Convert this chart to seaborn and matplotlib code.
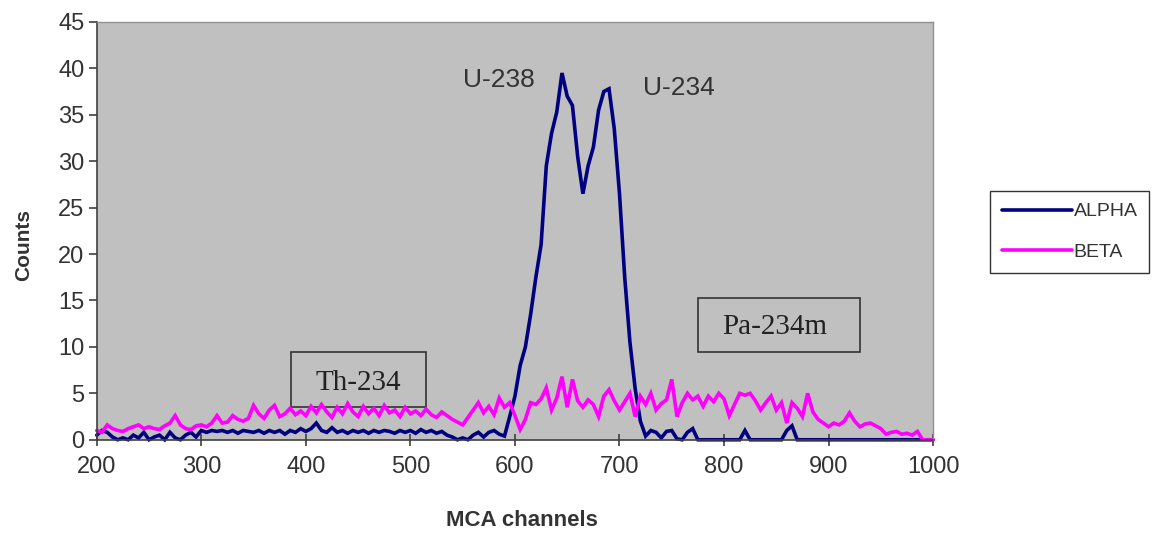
import numpy as np
import pandas as pd
import matplotlib.pyplot as plt
import seaborn as sns
from matplotlib.patches import Rectangle
from matplotlib.lines import Line2D

# MCA channel grid (every 5 channels, 200..1000)
channels = list(range(200, 1001, 5))

# counts
alpha_counts = [
    0.5, 1.0, 0.8, 0.3, 0.0, 0.2, 0.0, 0.5, 0.2, 0.8,        # 200-245
    0.0, 0.3, 0.5, 0.0, 0.8, 0.2, 0.0, 0.5, 0.8, 0.3,        # 250-295
    1.0, 0.8, 1.0, 0.9, 1.0, 0.8, 1.0, 0.7, 1.0, 0.9,        # 300-345
    0.8, 1.0, 0.7, 1.0, 0.8, 1.0, 0.6, 1.0, 0.8, 1.2,        # 350-395
    0.9, 1.2, 1.8, 1.0, 0.8, 1.3, 0.8, 1.0, 0.7, 1.0,        # 400-445
    0.8, 1.0, 0.7, 1.0, 0.8, 1.0, 0.9, 0.7, 1.0, 0.8,        # 450-495
    1.0, 0.7, 1.1, 0.8, 1.0, 0.7, 0.9, 0.5, 0.3, 0.0,        # 500-545
    0.2, 0.0, 0.5, 0.8, 0.3, 0.8, 1.0, 0.6, 0.4, 2.5,        # 550-595
    4.7, 8.0, 10.0, 13.5, 17.5, 21.0, 29.5, 33.0, 35.3, 39.5,  # 600-645
    37.0, 36.0, 30.5, 26.5, 29.5, 31.5, 35.5, 37.5, 37.8, 33.5,  # 650-695
    26.5, 17.5, 10.5, 5.5, 2.0, 0.4, 1.0, 0.8, 0.2, 0.9,     # 700-745
    1.0, 0.1, 0.0, 0.8, 1.2, 0.0, 0.0, 0.0, 0.0, 0.0,        # 750-795
    0.0, 0.0, 0.0, 0.0, 1.0, 0.0, 0.0, 0.0, 0.0, 0.0,        # 800-845
    0.0, 0.0, 1.0, 1.5, 0.0, 0.0, 0.0, 0.0, 0.0, 0.0,        # 850-895
    0.0, 0.0, 0.0, 0.0, 0.0, 0.0, 0.0, 0.0, 0.0, 0.0,        # 900-945
    0.0, 0.0, 0.0, 0.0, 0.0, 0.0, 0.0, 0.0, 0.0, 0.0,        # 950-995
    0.0,                                                     # 1000
]

beta_counts = [
    1.0, 0.8, 1.6, 1.2, 1.0, 0.9, 1.2, 1.4, 1.6, 1.2,        # 200-245
    1.4, 1.2, 1.1, 1.5, 1.8, 2.6, 1.6, 1.2, 1.1, 1.5,        # 250-295
    1.6, 1.4, 1.8, 2.6, 1.8, 1.9, 2.6, 2.2, 2.0, 2.3,        # 300-345
    3.7, 2.8, 2.3, 3.2, 3.7, 2.5, 2.8, 3.4, 2.7, 3.1,        # 350-395
    2.6, 3.6, 2.9, 3.8, 3.0, 2.4, 3.5, 2.8, 3.9, 3.0,        # 400-445
    2.5, 3.6, 2.8, 3.4, 2.6, 3.7, 2.9, 3.2, 2.5, 3.5,        # 450-495
    2.8, 3.1, 2.6, 3.3, 2.7, 2.4, 3.0, 2.6, 2.2, 1.9,        # 500-545
    1.6, 2.4, 3.2, 4.0, 2.9, 3.6, 2.7, 4.5, 3.5, 4.0,        # 550-595
    2.6, 1.1, 2.2, 4.0, 3.8, 4.4, 5.6, 3.2, 4.5, 6.8,        # 600-645
    3.5, 6.5, 4.2, 3.5, 4.3, 3.8, 2.5, 4.7, 5.4, 4.2,        # 650-695
    3.2, 4.1, 5.0, 2.5, 4.7, 3.8, 5.0, 3.2, 3.9, 4.3,        # 700-745
    6.5, 2.5, 4.0, 5.0, 4.3, 4.7, 3.6, 4.7, 4.1, 5.0,        # 750-795
    4.4, 2.6, 3.8, 5.0, 4.8, 5.0, 4.2, 3.2, 4.0, 4.7,        # 800-845
    3.2, 4.0, 1.8, 4.0, 3.4, 2.5, 5.0, 3.0, 2.2, 1.8,        # 850-895
    1.4, 1.8, 1.6, 2.0, 2.9, 2.0, 1.4, 1.7, 1.8, 1.5,        # 900-945
    1.2, 0.6, 0.8, 0.9, 0.6, 0.7, 0.5, 0.9, 0.0, 0.0,        # 950-995
    0.0,                                                     # 1000
]

series_names = ["ALPHA", "BETA"]
series_colors = ["#000080", "#FF00FF"]
x_ticks = [200, 300, 400, 500, 600, 700, 800, 900, 1000]
y_ticks = [0, 5, 10, 15, 20, 25, 30, 35, 40, 45]

df = pd.DataFrame({
    "channel": channels * 2,
    "counts": alpha_counts + beta_counts,
    "series": [series_names[0]] * len(channels) + [series_names[1]] * len(channels),
})

sns.set_style("ticks", {"axes.facecolor": "#C0C0C0"})
plt.rcParams["font.family"] = ["Liberation Sans", "DejaVu Sans"]

fig = plt.figure(figsize=(11.52, 5.35), dpi=100)
ax = fig.add_axes([0.084, 0.178, 0.726, 0.781])

sns.lineplot(data=df, x="channel", y="counts", hue="series",
             palette=dict(zip(series_names, series_colors)),
             linewidth=2.6, estimator=None, legend=False, ax=ax)
for ln in ax.lines:
    ln.set_clip_on(False)
    ln.set_solid_joinstyle("miter")

ax.set_xlim(200, 1000)
ax.set_ylim(0, 45)
ax.set_xticks(x_ticks)
ax.set_yticks(y_ticks)

for side in ["left", "bottom"]:
    ax.spines[side].set_color("#404040")
    ax.spines[side].set_linewidth(1.2)
for side in ["top", "right"]:
    ax.spines[side].set_visible(True)
    ax.spines[side].set_color("#909090")
    ax.spines[side].set_linewidth(1.0)

ax.tick_params(axis="y", direction="out", length=6, width=1.2, color="#404040",
               labelsize=17, labelcolor="#333333", pad=3)
ax.tick_params(axis="x", direction="inout", length=9, width=1.2, color="#404040",
               labelsize=17, labelcolor="#333333", pad=7)

ax.set_xlabel("MCA channels", fontsize=16, fontweight="bold", color="#333333")
ax.set_ylabel("Counts", fontsize=15, fontweight="bold", color="#333333")
ax.xaxis.set_label_coords(0.508, -0.168)
ax.yaxis.set_label_coords(-0.076, 0.466)

# peak labels
ax.text(585, 38.8, "U-238", fontsize=19, color="#333333", ha="center", va="center")
ax.text(757, 37.9, "U-234", fontsize=19, color="#333333", ha="center", va="center")

# boxed labels
ax.add_patch(Rectangle((385.6, 3.55), 129.2, 5.95, fill=False, ec="#333333", lw=1.2))
ax.text(450.5, 6.1, "Th-234", fontsize=21, family="Liberation Serif",
        color="#222222", ha="center", va="center")
ax.add_patch(Rectangle((775, 9.47), 155, 5.83, fill=False, ec="#333333", lw=1.2))
ax.text(848, 12.1, "Pa-234m", fontsize=21, family="Liberation Serif",
        color="#222222", ha="center", va="center")

handles = [Line2D([], [], color=c, lw=2.6) for c in series_colors]
leg = fig.legend(handles, series_names, loc="center left",
                 bbox_to_anchor=(990 / 1152, 1 - 232 / 535),
                 fontsize=14, handlelength=3.6, handletextpad=0.1,
                 labelspacing=1.2, borderpad=0.6, borderaxespad=0,
                 frameon=True, fancybox=False, framealpha=1,
                 facecolor="white", edgecolor="#333333")
leg.get_frame().set_linewidth(1.0)
for t in leg.get_texts():
    t.set_color("#333333")

fig.savefig("out.png", dpi=100, facecolor="white")
